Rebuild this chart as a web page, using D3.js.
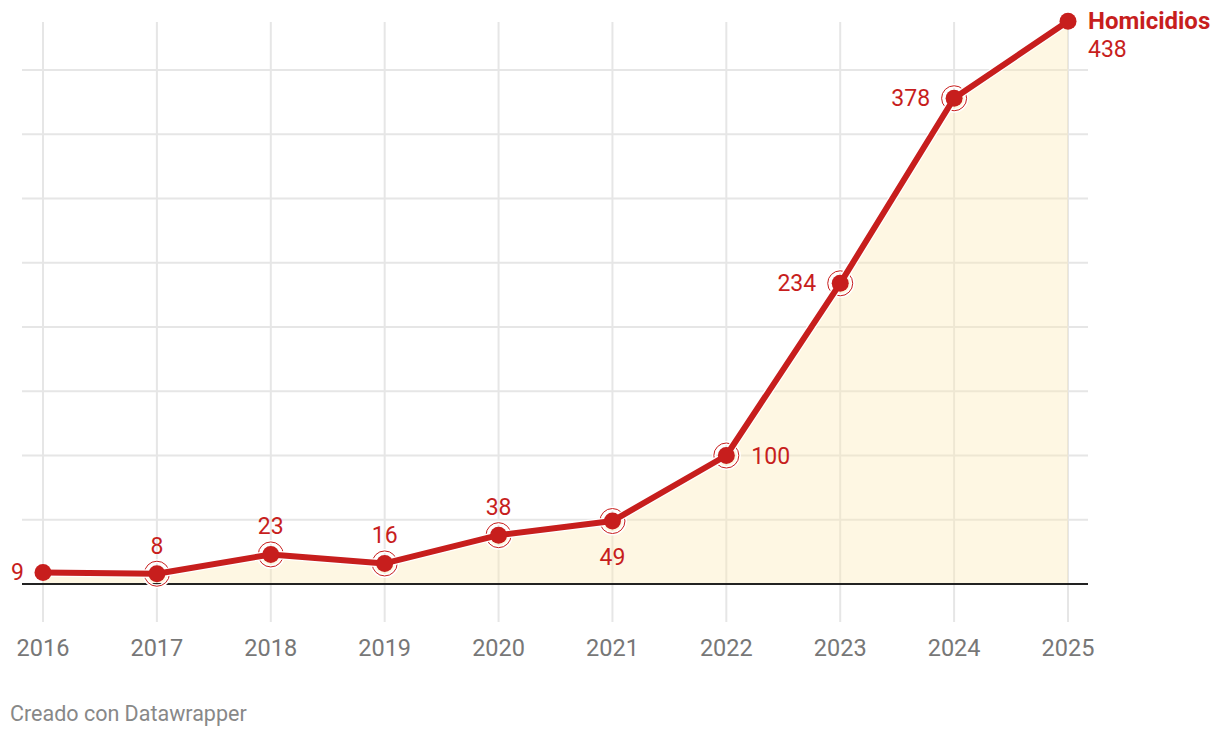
<!DOCTYPE html>
<meta charset="utf-8">
<script src="https://d3js.org/d3.v7.min.js"></script>
<style>
  body { margin: 0; background: #fff; }
  svg { display: block; font-family: Roboto, sans-serif; }
</style>
<body>
<div id="chart"></div>
<script>
// data
var years = [2016, 2017, 2018, 2019, 2020, 2021, 2022, 2023, 2024, 2025];
var homicidios = [9, 8, 23, 16, 38, 49, 100, 234, 378, 438];
var gridValues = [50, 100, 150, 200, 250, 300, 350, 400];
// where each value label sits relative to its point
var labelPos = ["left", "top", "top", "top", "top", "bottom", "right", "left", "left", "end"];

var W = 1220, H = 738;
var red = "#c71e1d";

var svg = d3.select("#chart").append("svg")
  .attr("width", W)
  .attr("height", H);

var x = d3.scaleLinear().domain([2016, 2025]).range([43, 1068]);
var y = d3.scaleLinear().domain([0, 400]).range([584, 70]);

var data = years.map(function(d, i) {
  return {year: d, value: homicidios[i], pos: labelPos[i], ring: i > 0 && i < years.length - 1};
});

// vertical grid
svg.append("g")
  .selectAll("line")
  .data(years)
  .enter().append("line")
    .attr("x1", function(d) { return x(d); })
    .attr("x2", function(d) { return x(d); })
    .attr("y1", 22)
    .attr("y2", 622)
    .style("stroke", "#e6e6e6")
    .style("stroke-width", 2);

// horizontal grid
svg.append("g")
  .selectAll("line")
  .data(gridValues)
  .enter().append("line")
    .attr("x1", 22)
    .attr("x2", 1088)
    .attr("y1", function(d) { return y(d); })
    .attr("y2", function(d) { return y(d); })
    .style("stroke", "#e6e6e6")
    .style("stroke-width", 2);

// area
var area = d3.area()
  .x(function(d) { return x(d.year); })
  .y0(y(0))
  .y1(function(d) { return y(d.value); });

svg.append("path")
  .datum(data)
  .attr("d", area)
  .style("fill", "#fde9b5")
  .style("fill-opacity", 0.38);

// baseline
svg.append("line")
  .attr("x1", 22)
  .attr("x2", 1088)
  .attr("y1", y(0))
  .attr("y2", y(0))
  .style("stroke", "#222")
  .style("stroke-width", 2);

// rings on middle points (under the line)
var ringed = data.filter(function(d) { return d.ring; });

svg.append("g")
  .selectAll("circle")
  .data(ringed)
  .enter().append("circle")
    .attr("cx", function(d) { return x(d.year); })
    .attr("cy", function(d) { return y(d.value); })
    .attr("r", 12.5)
    .style("fill", "none")
    .style("stroke", "#fff")
    .style("stroke-width", 4);

svg.append("g")
  .selectAll("circle")
  .data(ringed)
  .enter().append("circle")
    .attr("cx", function(d) { return x(d.year); })
    .attr("cy", function(d) { return y(d.value); })
    .attr("r", 12.5)
    .style("fill", "none")
    .style("stroke", red)
    .style("stroke-width", 1);

// line with white halo
var line = d3.line()
  .x(function(d) { return x(d.year); })
  .y(function(d) { return y(d.value); });

svg.append("path")
  .datum(data)
  .attr("d", line)
  .style("fill", "none")
  .style("stroke", "#fff")
  .style("stroke-width", 8.5)
  .style("stroke-linejoin", "round");

svg.append("path")
  .datum(data)
  .attr("d", line)
  .style("fill", "none")
  .style("stroke", red)
  .style("stroke-width", 6)
  .style("stroke-linejoin", "round");

// dots
svg.append("g")
  .selectAll("circle")
  .data(data)
  .enter().append("circle")
    .attr("cx", function(d) { return x(d.year); })
    .attr("cy", function(d) { return y(d.value); })
    .attr("r", 8.5)
    .style("fill", red);

// value labels
svg.append("g")
  .selectAll("text")
  .data(data)
  .enter().append("text")
    .attr("x", function(d) {
      var cx = x(d.year);
      if (d.pos == "left") return cx - (d.ring ? 24 : 19);
      if (d.pos == "right") return cx + 25;
      if (d.pos == "end") return cx + 20;
      return cx;
    })
    .attr("y", function(d) {
      var cy = y(d.value);
      if (d.pos == "top") return cy - 20;
      if (d.pos == "bottom") return cy + 44;
      if (d.pos == "end") return cy + 36;
      return cy + 8;
    })
    .attr("text-anchor", function(d) {
      if (d.pos == "left") return "end";
      if (d.pos == "top" || d.pos == "bottom") return "middle";
      return "start";
    })
    .style("fill", red)
    .style("font-size", "23px")
    .text(function(d) { return d.value; });

// series name
svg.append("text")
  .attr("x", x(2025) + 20)
  .attr("y", y(438) + 8)
  .style("fill", red)
  .style("font-size", "24px")
  .style("font-weight", "bold")
  .text("Homicidios");

// x axis labels
svg.append("g")
  .selectAll("text")
  .data(years)
  .enter().append("text")
    .attr("x", function(d) { return x(d); })
    .attr("y", 656)
    .attr("text-anchor", "middle")
    .style("fill", "#777")
    .style("font-size", "23.5px")
    .text(function(d) { return d; });

// credit
svg.append("text")
  .attr("x", 10)
  .attr("y", 721)
  .style("fill", "#888")
  .style("font-size", "21.5px")
  .text("Creado con Datawrapper");
</script>
</body>
